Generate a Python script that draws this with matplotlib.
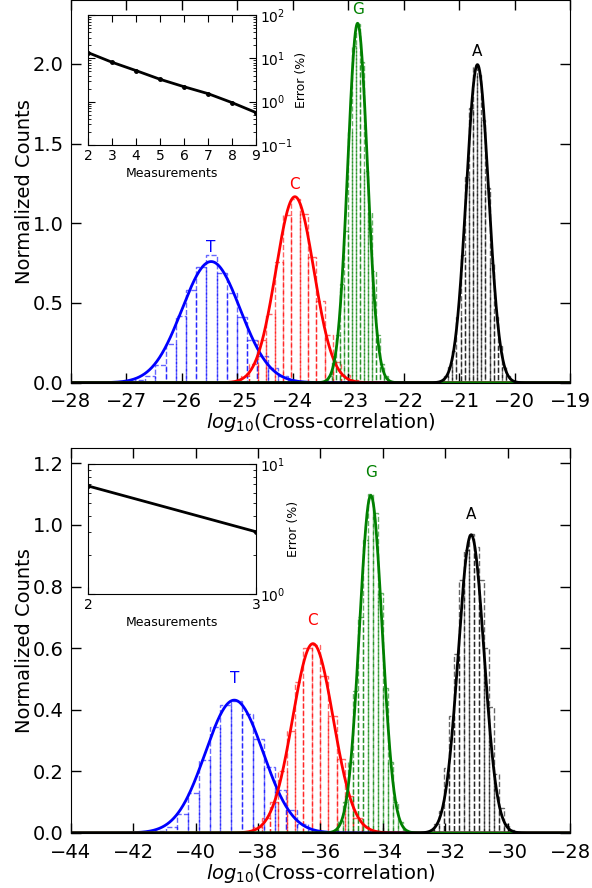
import numpy as np
import matplotlib
matplotlib.use("Agg")
import matplotlib.pyplot as plt
from matplotlib import ticker

# ---------- top panel data ----------
top_labels = ["T", "C", "G", "A"]
top_colors = ["b", "r", "g", "k"]
# gaussian fit parameters (mean, sigma)
top_mu = [-25.47, -23.96, -22.83, -20.67]
top_sigma = [0.525, 0.342, 0.177, 0.200]
# histogram bins: first left edge, bin width, normalized heights
top_left = [-27.028, -24.93, -23.44, -21.425]
top_width = [0.184, 0.1506, 0.072, 0.075]
top_T = [0.005, 0.015, 0.04, 0.113, 0.24, 0.42, 0.58, 0.725, 0.80, 0.69,
         0.56, 0.415, 0.27, 0.17, 0.09, 0.04, 0.015, 0.005]
top_C = [0.04, 0.12, 0.27, 0.43, 0.76, 1.05, 1.15, 1.06, 0.79, 0.51,
         0.30, 0.13, 0.05, 0.02]
top_G = [0.01, 0.04, 0.13, 0.30, 0.62, 0.95, 1.57, 2.11, 2.25, 2.01,
         1.33, 1.07, 0.70, 0.30, 0.12, 0.04, 0.01]
top_A = [0.003, 0.01, 0.04, 0.10, 0.20, 0.41, 0.80, 1.29, 1.72, 1.98,
         1.93, 1.65, 1.22, 0.75, 0.41, 0.23, 0.10, 0.04, 0.01]
top_text_y = [0.846, 1.241, 2.338, 2.075]
top_xticks = [-28, -27, -26, -25, -24, -23, -22, -21, -20, -19]

# ---------- bottom panel data ----------
bot_mu = [-38.76, -36.24, -34.385, -31.17]
bot_sigma = [0.925, 0.649, 0.364, 0.412]
bot_left = [-41.298, -38.147, -35.745, -32.69]
bot_width = [0.349, 0.267, 0.16, 0.16]
bot_T = [0.005, 0.02, 0.06, 0.13, 0.237, 0.345, 0.415, 0.43, 0.385, 0.305,
         0.215, 0.14, 0.075, 0.03, 0.01]
bot_C = [0.02, 0.05, 0.10, 0.20, 0.33, 0.49, 0.60, 0.61, 0.51, 0.38,
         0.24, 0.12, 0.05, 0.02]
bot_G = [0.002, 0.01, 0.04, 0.10, 0.23, 0.46, 0.70, 0.95, 1.10, 1.04,
         0.78, 0.47, 0.23, 0.10, 0.035, 0.01, 0.002]
bot_A = [0.002, 0.01, 0.03, 0.07, 0.21, 0.38, 0.58, 0.82, 0.92, 0.97,
         0.93, 0.82, 0.60, 0.41, 0.19, 0.08, 0.03, 0.01, 0.002]
bot_text_y = [0.503, 0.691, 1.171, 1.035]
bot_xticks = [-44, -42, -40, -38, -36, -34, -32, -30, -28]

# ---------- insets ----------
top_meas = [2, 3, 4, 5, 6, 7, 8, 9]
top_err = [13.5, 8.1, 5.2, 3.28, 2.21, 1.53, 0.95, 0.56]
bot_meas = [2, 3]
bot_err = [6.77, 3.01]

plt.rcParams["font.family"] = "DejaVu Sans"
plt.rcParams["mathtext.fontset"] = "dejavusans"

fig = plt.figure(figsize=(5.92, 8.88), dpi=100)


def panel(ax, xlim, ylim, xticks, yticks, mus, sigmas, lefts, widths, hists, text_y):
    xs = np.linspace(xlim[0], xlim[1], 2000)
    for i in range(4):
        h = np.array(hists[i])
        edges = lefts[i] + widths[i] * np.arange(len(h))
        ax.bar(edges, h, width=widths[i], align="edge", fill=False,
               edgecolor=top_colors[i], linestyle="--", linewidth=1.0,
               alpha=0.6)
    for i in range(4):
        pdf = np.exp(-0.5 * ((xs - mus[i]) / sigmas[i]) ** 2) / (sigmas[i] * np.sqrt(2 * np.pi))
        ax.plot(xs, pdf, color=top_colors[i], lw=2)
        ax.text(mus[i], text_y[i], top_labels[i], color=top_colors[i],
                ha="center", va="center", fontsize=11)
    ax.set_xlim(xlim)
    ax.set_ylim(ylim)
    ax.set_xticks(xticks)
    ax.set_yticks(yticks)
    ax.yaxis.set_major_formatter(ticker.FormatStrFormatter("%.1f"))
    ax.tick_params(direction="in", top=True, right=True, labelsize=14,
                   length=7, width=1, pad=5)
    ax.tick_params(axis="x", pad=7)
    ax.set_ylabel("Normalized Counts", fontsize=14, labelpad=-1)
    ax.set_xlabel("$log_{10}$(Cross-correlation)", fontsize=14, labelpad=0)


ax1 = fig.add_axes([0.1195, 0.569, 0.8435, 0.431])
panel(ax1, (-28, -19), (0, 2.4), top_xticks, [0.0, 0.5, 1.0, 1.5, 2.0],
      top_mu, top_sigma, top_left, top_width, [top_T, top_C, top_G, top_A],
      top_text_y)

ax2 = fig.add_axes([0.1195, 0.062, 0.8435, 0.4335])
panel(ax2, (-44, -28), (0, 1.25), bot_xticks, [0.0, 0.2, 0.4, 0.6, 0.8, 1.0, 1.2],
      bot_mu, bot_sigma, bot_left, bot_width, [bot_T, bot_C, bot_G, bot_A],
      bot_text_y)


def inset(rect, meas, err, ylim, xticks):
    ax = fig.add_axes(rect)
    ax.plot(meas, err, color="k", lw=2, marker=".", markersize=5)
    ax.set_yscale("log")
    ax.set_ylim(ylim)
    ax.set_xlim(meas[0], meas[-1])
    ax.set_xticks(xticks)
    ax.yaxis.set_minor_formatter(ticker.NullFormatter())
    ax.yaxis.tick_right()
    ax.yaxis.set_label_position("right")
    ax.tick_params(which="both", direction="in", left=True, right=True,
                   top=True, bottom=True, labelsize=10, pad=3)
    ax.tick_params(which="major", length=5)
    ax.tick_params(which="minor", length=2.5)
    ax.set_xlabel("Measurements", fontsize=9, labelpad=3)
    ax.set_ylabel("Error (%)", fontsize=9, labelpad=1)
    return ax


inset([0.149, 0.8367, 0.2835, 0.1464], top_meas, top_err, (0.1, 100),
      top_meas)
inset([0.149, 0.3311, 0.2835, 0.1464], bot_meas, bot_err, (1, 10),
      bot_meas)

fig.savefig("out.png", dpi=100)
